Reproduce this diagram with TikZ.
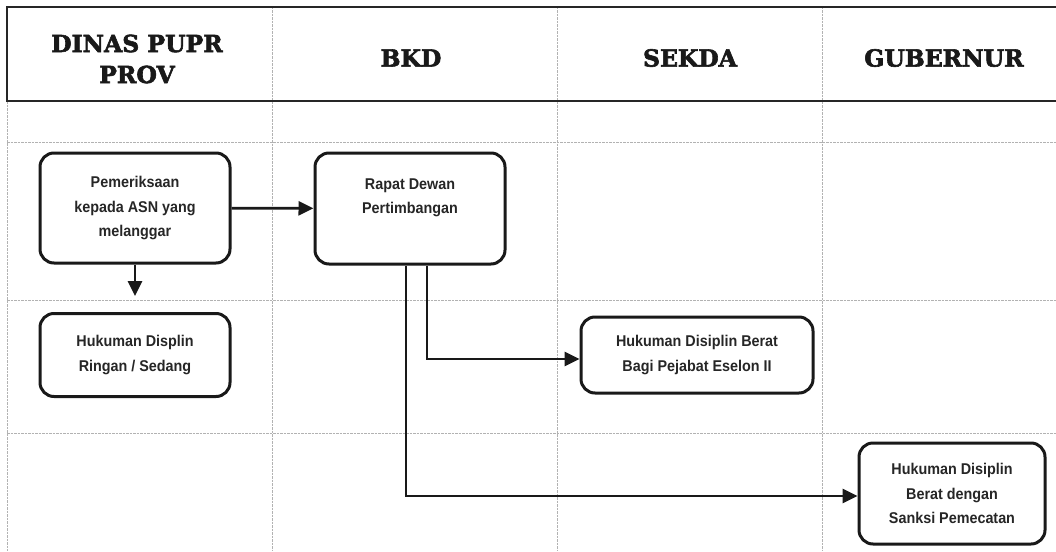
\documentclass[tikz,border=0pt]{standalone}
\usepackage{fontspec}
\setmainfont{Liberation Sans}
\newfontfamily\bodyfont{Liberation Sans Bold}[FakeStretch=0.92]
\newfontfamily\headfont{DejaVu Serif Bold}[FakeBold=2.5]
\usetikzlibrary{arrows.meta}
\begin{document}
\begin{tikzpicture}[x=1pt,y=-1pt,
  gridline/.style={draw=black!30, line width=0.6pt, dash pattern=on 2.5pt off 1pt},
  headline/.style={draw=black!85, line width=2pt},
  headtext/.style={font=\headfont\fontsize{23.5}{31}\selectfont, text=black!90, align=center, inner sep=0pt},
  procbox/.style={draw=black!90, line width=3pt, rounded corners=14pt, align=center, inner sep=0pt,
    font=\bodyfont\fontsize{15.6}{24.5}\selectfont, text=black!85},
  conn/.style={draw=black!90, line width=2.8pt, -{Triangle[length=15pt,width=14pt]}}
]
\useasboundingbox (0,0) rectangle (1056,551);
\fill[white] (0,0) rectangle (1056,551);
% grid
\draw[gridline] (7,142) -- (1056,142);
\draw[gridline] (7,300) -- (1056,300);
\draw[gridline] (7,433) -- (1056,433);
\draw[gridline] (7,101) -- (7,551);
\draw[gridline] (272,7) -- (272,551);
\draw[gridline] (557,7) -- (557,551);
\draw[gridline] (822,7) -- (822,551);
% header frame
\draw[headline] (1056,7) -- (7,7) -- (7,101) -- (1056,101);
% header texts
\node[headtext] (h1) at (137,59) {DINAS PUPR\\PROV};
\node[headtext] (h2) at (411,58) {BKD};
\node[headtext] (h3) at (690,58) {SEKDA};
\node[headtext] (h4) at (944,58) {GUBERNUR};
% boxes
\node[procbox, minimum width=190pt, minimum height=110pt] (p) at (135,208) {Pemeriksaan\\kepada ASN yang\\melanggar};
\node[procbox, minimum width=190pt, minimum height=111pt] (r) at (410,208.5) {Rapat Dewan\\Pertimbangan\\~};
\node[procbox, minimum width=190pt, minimum height=83pt] (d) at (135,355) {Hukuman Displin\\Ringan / Sedang};
\node[procbox, minimum width=232pt, minimum height=76pt] (b) at (697,355) {Hukuman Disiplin Berat\\Bagi Pejabat Eselon II};
\node[procbox, minimum width=186pt, minimum height=101pt] (g) at (952,493.5) {Hukuman Disiplin\\Berat dengan\\Sanksi Pemecatan};
% connectors
\draw[conn] (p) -- (r);
\draw[conn, shorten >=16pt] (p) -- (d);
\draw[conn] ([xshift=17pt]r.south) |- ([yshift=-4pt]b.west);
\draw[conn] ([xshift=-4pt]r.south) |- ([yshift=-2.5pt]g.west);
\end{tikzpicture}
\end{document}
